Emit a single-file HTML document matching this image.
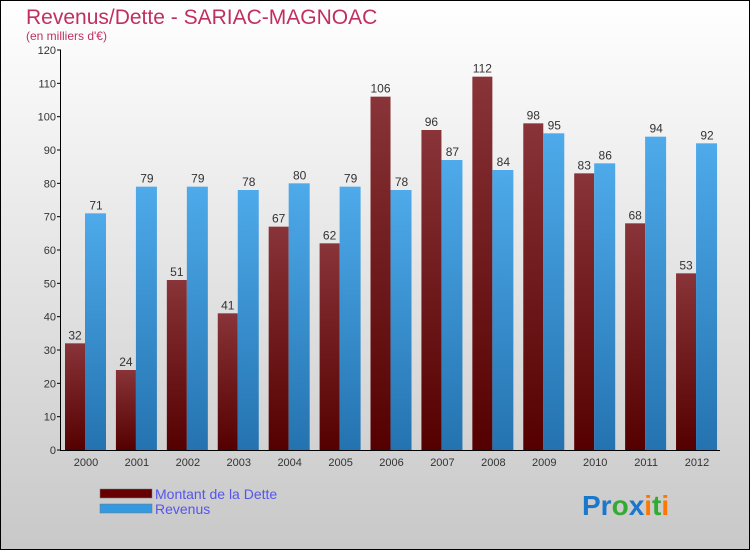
<!DOCTYPE html>
<html><head><meta charset="utf-8"><style>
body{margin:0;width:750px;height:550px;overflow:hidden;font-family:"Liberation Sans",sans-serif}
</style></head><body>
<svg id="chart" width="750" height="550" xmlns="http://www.w3.org/2000/svg">
<defs>
<linearGradient id="bg" x1="0" y1="0" x2="0" y2="1"><stop offset="0" stop-color="#ffffff"/><stop offset="1" stop-color="#c8c8c8"/></linearGradient>
<linearGradient id="gd" x1="0" y1="0" x2="0" y2="1"><stop offset="0" stop-color="#883438"/><stop offset="1" stop-color="#550000"/></linearGradient>
<linearGradient id="gr" x1="0" y1="0" x2="0" y2="1"><stop offset="0" stop-color="#4eaaea"/><stop offset="1" stop-color="#2473b0"/></linearGradient>
</defs>
<rect x="0.5" y="0.5" width="749" height="549" fill="url(#bg)" stroke="#000"/>
<text x="26" y="24" font-size="21" fill="#c0305e">Revenus/Dette - SARIAC-MAGNOAC</text>
<text x="26" y="40" font-size="12" fill="#c0305e">(en milliers d'€)</text>
<g id="axes"></g>
<g id="bars"></g>
<g>
<rect x="100" y="489" width="52" height="9" fill="#660000" stroke="#777" stroke-width="0.5"/>
<text x="155" y="499" font-size="14" fill="#5555ee">Montant de la Dette</text>
<rect x="100" y="504" width="52" height="9" fill="#3399e0" stroke="#777" stroke-width="0.5"/>
<text x="155" y="514" font-size="14" fill="#5555ee">Revenus</text>
</g>
<text x="582" y="515" font-size="28" font-weight="bold"><tspan fill="#1a77cc">Pr</tspan><tspan fill="#33aa33">o</tspan><tspan fill="#1a77cc">x</tspan><tspan fill="#ff7700">i</tspan><tspan fill="#33aa33">t</tspan><tspan fill="#ff7700">i</tspan></text>
</svg>
<script>
const categories=["2000","2001","2002","2003","2004","2005","2006","2007","2008","2009","2010","2011","2012"];
const dette=[32,24,51,41,67,62,106,96,112,98,83,68,53];
const revenus=[71,79,79,78,80,79,78,87,84,95,86,94,92];
const yTicks=[0,10,20,30,40,50,60,70,80,90,100,110,120];
const NS="http://www.w3.org/2000/svg";
const y=v=>450-v*400/120;
const x=i=>86+i*50.92;
function mk(t,a,p,txt){const e=document.createElementNS(NS,t);for(const k in a)e.setAttribute(k,a[k]);if(txt!==undefined)e.textContent=txt;p.appendChild(e);return e;}
const ax=document.getElementById('axes'),bg=document.getElementById('bars');
yTicks.forEach(v=>{
 const l=mk('line',{x1:57,x2:61,y1:y(v),y2:y(v),stroke:'#000'},ax);
 
 
 const t=mk('text',{x:56,y:y(v)+4,'font-size':11,fill:'#333','text-anchor':'end'},ax,v);
 
 
});
categories.forEach((c,i)=>{
 const d=mk('rect',{x:x(i)-21,y:y(dette[i]),width:20,height:450-y(dette[i]),fill:'url(#gd)'},bg);
 
 
 const r=mk('rect',{x:x(i)-1,y:y(revenus[i]),width:21,height:450-y(revenus[i]),fill:'url(#gr)'},bg);
 
 
 const dl=mk('text',{x:x(i)-11,y:y(dette[i])-4,'font-size':12,fill:'#333','text-anchor':'middle'},bg,dette[i]);
 
 
 const rl=mk('text',{x:x(i)+10,y:y(revenus[i])-4,'font-size':12,fill:'#333','text-anchor':'middle'},bg,revenus[i]);
 
 
 const xl=mk('text',{x:x(i),y:466,'font-size':11,fill:'#333','text-anchor':'middle'},ax,c);
 
 
});
const ya=mk('line',{x1:60.5,x2:60.5,y1:50,y2:451,stroke:'#000'},ax);


const xa=mk('line',{x1:60,x2:720,y1:450.5,y2:450.5,stroke:'#000'},ax);


</script>
</body></html>
